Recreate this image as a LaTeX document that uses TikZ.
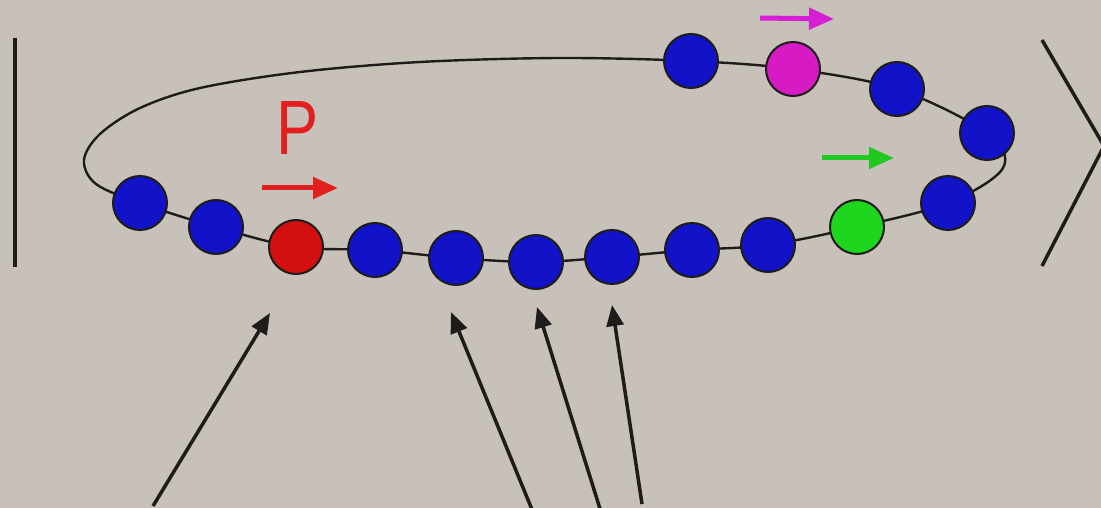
\documentclass[tikz,border=0pt]{standalone}
\usepackage{fontspec}
\setsansfont{Liberation Sans}
\usetikzlibrary{arrows.meta}
\definecolor{bg}{RGB}{199,193,186}
\definecolor{beadblue}{RGB}{18,18,200}
\definecolor{beadred}{RGB}{210,16,16}
\definecolor{beadmag}{RGB}{214,26,196}
\definecolor{beadgreen}{RGB}{30,214,30}
\definecolor{ink}{RGB}{30,28,26}
\definecolor{arrred}{RGB}{226,30,30}
\definecolor{arrmag}{RGB}{214,30,210}
\definecolor{arrgreen}{RGB}{34,200,34}
\tikzset{
  bead/.style={circle, minimum size=54pt, inner sep=0pt, draw=ink, line width=2pt},
  chain/.style={draw=ink, line width=2.4pt},
  wall/.style={draw=ink, line width=3.5pt},
  pointer/.style={draw=ink, line width=3.5pt, -{Triangle[length=21pt,width=17pt]}},
  motion/.style={line width=5pt, -{Triangle[length=25pt,width=21pt]}},
}
\begin{document}
\begin{tikzpicture}[x=1pt,y=-1pt]
\useasboundingbox (0,0) rectangle (1101,508);
\fill[bg] (0,0) rectangle (1101,508);
\clip (0,0) rectangle (1101,508);

% bead positions along the chain
\coordinate (p1) at (140,203);
\coordinate (p2) at (216,227);
\coordinate (p3) at (296,247);
\coordinate (p4) at (375,250);
\coordinate (p5) at (456,258);
\coordinate (p6) at (536,262);
\coordinate (p7) at (612,257);
\coordinate (p8) at (692,250);
\coordinate (p9) at (768,245);
\coordinate (p10) at (857,227);
\coordinate (p11) at (948,203);
\coordinate (p12) at (987,133);
\coordinate (p13) at (897,89);
\coordinate (p14) at (793,69);
\coordinate (p15) at (691,61);

% closed chain backbone
\draw[chain] plot[smooth cycle, tension=0.55] coordinates {
  (p1) (p2) (p3) (p4) (p5) (p6) (p7) (p8) (p9) (p10) (p11)
  (1003,168) (p12) (p13) (p14) (p15)
  (560,58) (420,62) (300,72) (200,88) (140,108) (100,134) (84,160) (96,184)};

% beads
\foreach \i in {1,2,4,5,6,7,8,9,11,12,13,15}
  \node[bead, fill=beadblue] (b\i) at (p\i) {};
\node[bead, fill=beadred]   (b3)  at (p3)  {};
\node[bead, fill=beadgreen] (b10) at (p10) {};
\node[bead, fill=beadmag]   (b14) at (p14) {};

% walls
\coordinate (wl1) at (15,38);
\coordinate (wl2) at (15,267);
\draw[wall] (wl1) -- (wl2);
\coordinate (wr1) at (1042,40);
\coordinate (wr2) at (1104,146);
\coordinate (wr3) at (1042,266);
\draw[wall] (wr1) -- (wr2) -- (wr3);

% label and motion arrows
\node[text=arrred, font=\sffamily\fontsize{77}{77}\selectfont, xscale=0.82, inner sep=0pt] (plabel) at (298,128) {P};
\coordinate (ra1) at (262,188);
\coordinate (ra2) at (338,188);
\draw[motion, draw=arrred, fill=arrred] (ra1) -- (ra2);
\coordinate (ma1) at (760,18);
\coordinate (ma2) at (834,19);
\draw[motion, draw=arrmag, fill=arrmag] (ma1) -- (ma2);
\coordinate (ga1) at (822,158);
\coordinate (ga2) at (894,158);
\draw[motion, draw=arrgreen, fill=arrgreen] (ga1) -- (ga2);

% pointers from below
\coordinate (t1) at (153,506);
\coordinate (h1) at (270,313);
\draw[pointer, fill=ink] (t1) -- (h1);
\coordinate (t2) at (533,512);
\coordinate (h2) at (451,312);
\draw[pointer, fill=ink] (t2) -- (h2);
\coordinate (t3) at (601,512);
\coordinate (h3) at (537,307);
\draw[pointer, fill=ink] (t3) -- (h3);
\coordinate (t4) at (642,504);
\coordinate (h4) at (612,305);
\draw[pointer, fill=ink] (t4) -- (h4);
\end{tikzpicture}
\end{document}
